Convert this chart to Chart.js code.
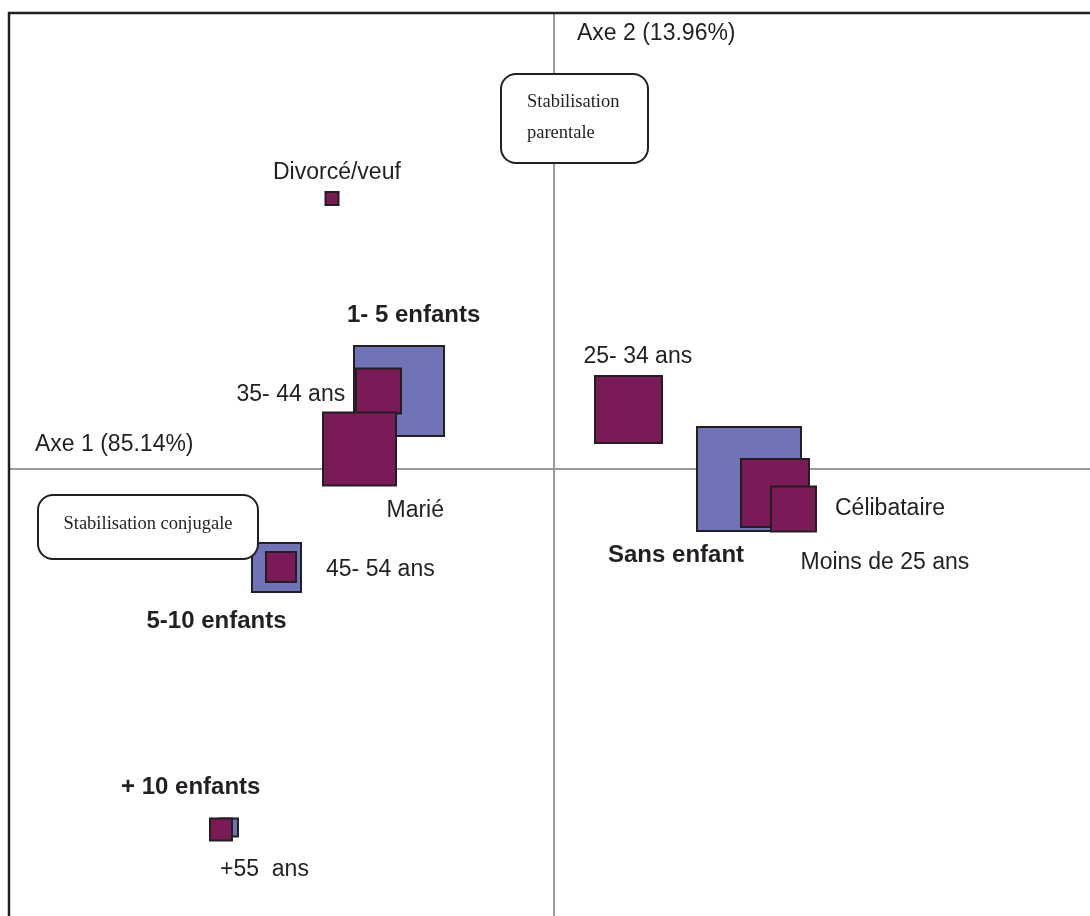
<!DOCTYPE html>
<html lang="fr">
<head>
  <meta charset="UTF-8">
  <title>Plan factoriel</title>
  <style>
    body {
      margin: 0;
      background: #fff;
    }
    #wrap {
      width: 1090px;
      height: 916px;
    }
  </style>
</head>
<body>
  <div id="wrap"><canvas id="plan" width="1090" height="916"></canvas></div>

  <script src="https://cdn.jsdelivr.net/npm/chart.js@4"></script>
  <script>
    // nombre d'enfants (carrés bleus)
    const enfantsLabels = ["1- 5 enfants", "Sans enfant", "5-10 enfants", "+ 10 enfants"];
    const enfantsAxe1 = [-1.55, 1.95, -2.775, -3.25];
    const enfantsAxe2 = [0.78, -0.10, -0.985, -3.585];
    const enfantsPoids = [9.0, 10.4, 4.9, 1.8];

    // âge et état matrimonial (carrés violets)
    const ageLabels = ["Divorcé/veuf", "35- 44 ans", "Marié", "25- 34 ans", "Célibataire", "Moins de 25 ans", "45- 54 ans", "+55  ans"];
    const ageAxe1 = [-2.22, -1.755, -1.945, 0.745, 2.21, 2.395, -2.73, -3.33];
    const ageAxe2 = [2.705, 0.78, 0.20, 0.595, -0.24, -0.40, -0.98, -3.605];
    const agePoids = [1.3, 4.5, 7.3, 6.7, 6.8, 4.5, 3.0, 2.2];

    const axe1Titre = "Axe 1 (85.14%)";
    const axe2Titre = "Axe 2 (13.96%)";

    // placement des étiquettes (décalage en px depuis le centre du carré)
    const enfantsOffsets = [[-52, -69], [-141, 83], [-130, 60], [-108, -34]];
    const ageOffsets = [[-59, -20], [-142, 10], [27, 68], [-45, -47], [60, 22], [7, 60], [45, 9], [-1, 46]];

    const violet = "#7a1a56";
    const bleu = "#7073b8";
    const trait = "#231f20";

    const toPoints = (xs, ys) => xs.map((x, i) => ({ x, y: ys[i] }));
    const radii = (p) => p.map(v => v * 10 / Math.SQRT2);

    const frame = {
      id: "frame",
      beforeDatasetsDraw(chart) {
        const { ctx, scales } = chart;
        const x0 = scales.x.getPixelForValue(0);
        const y0 = scales.y.getPixelForValue(0);
        ctx.save();
        ctx.strokeStyle = "#9a9a9a";
        ctx.lineWidth = 2;
        ctx.beginPath();
        ctx.moveTo(x0, 13);
        ctx.lineTo(x0, 916);
        ctx.moveTo(9, y0);
        ctx.lineTo(1090, y0);
        ctx.stroke();

        ctx.strokeStyle = trait;
        ctx.lineWidth = 2.5;
        ctx.beginPath();
        ctx.moveTo(9, 916);
        ctx.lineTo(9, 13);
        ctx.lineTo(1090, 13);
        ctx.stroke();
        ctx.restore();
      },
      afterDatasetsDraw(chart) {
        const { ctx, scales } = chart;
        const x0 = scales.x.getPixelForValue(0);
        const y0 = scales.y.getPixelForValue(0);
        ctx.save();
        ctx.fillStyle = "#231f20";
        ctx.textBaseline = "alphabetic";
        ctx.textAlign = "left";

        ctx.font = "23px 'Liberation Sans', Arial, sans-serif";
        ctx.fillText(axe2Titre, x0 + 23, 40);
        ctx.fillText(axe1Titre, 35, y0 - 18);

        const drawLabels = (dsIndex, labels, offsets, boldFont) => {
          const meta = chart.getDatasetMeta(dsIndex);
          meta.data.forEach((pt, i) => {
            ctx.font = boldFont
              ? "bold 24px 'Liberation Sans', Arial, sans-serif"
              : "23px 'Liberation Sans', Arial, sans-serif";
            ctx.fillText(labels[i], pt.x + offsets[i][0], pt.y + offsets[i][1]);
          });
        };
        drawLabels(0, enfantsLabels, enfantsOffsets, true);
        drawLabels(1, ageLabels, ageOffsets, false);

        // encadrés
        const box = (x, y, w, h, lines, lh) => {
          ctx.beginPath();
          ctx.roundRect(x, y, w, h, 15);
          ctx.fillStyle = "#fff";
          ctx.fill();
          ctx.lineWidth = 2;
          ctx.strokeStyle = trait;
          ctx.stroke();
          ctx.fillStyle = "#231f20";
          ctx.font = "18.5px 'Liberation Serif', 'Times New Roman', serif";
          lines.forEach((t, i) => {
            ctx.textAlign = lines.length > 1 ? "left" : "center";
            const tx = lines.length > 1 ? x + 26 : x + w / 2;
            ctx.fillText(t, tx, lh[i]);
          });
        };
        box(x0 - 53, 74, 147, 89, ["Stabilisation", "parentale"], [107, 138]);
        box(38, 495, 220, 64, ["Stabilisation conjugale"], [529]);
        ctx.restore();
      }
    };

    new Chart(document.getElementById("plan"), {
      type: "scatter",
      data: {
        datasets: [
          {
            label: "Enfants",
            data: toPoints(enfantsAxe1, enfantsAxe2),
            order: 2,
            pointStyle: "rect",
            pointRadius: radii(enfantsPoids),
            backgroundColor: bleu,
            borderColor: trait,
            borderWidth: 2
          },
          {
            label: "Âge / état matrimonial",
            data: toPoints(ageAxe1, ageAxe2),
            order: 1,
            pointStyle: "rect",
            pointRadius: radii(agePoids),
            backgroundColor: violet,
            borderColor: trait,
            borderWidth: 2
          }
        ]
      },
      options: {
        responsive: false,
        animation: false,
        events: [],
        layout: { padding: 0, autoPadding: false },
        clip: false,
        scales: {
          x: { type: "linear", min: -5.54, max: 5.36, display: false },
          y: { type: "linear", min: -4.47, max: 4.69, display: false }
        },
        plugins: {
          legend: { display: false },
          tooltip: { enabled: false }
        }
      },
      plugins: [frame]
    });
  </script>
</body>
</html>
